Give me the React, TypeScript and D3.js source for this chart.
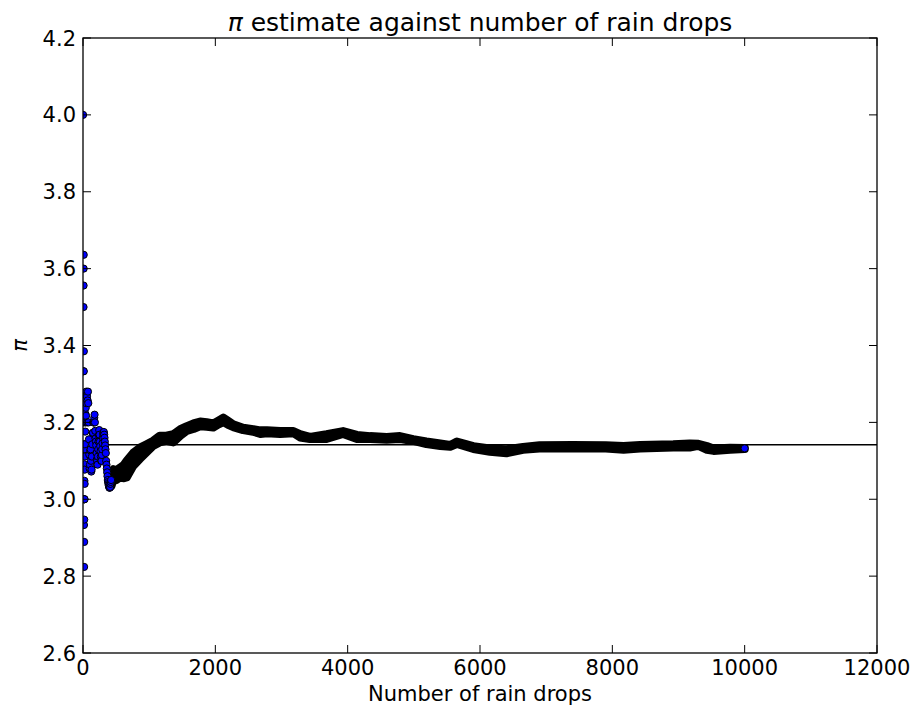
import React from "react";
import * as d3 from "d3";

// ---- data ----
const earlyN = [1, 4, 5, 6, 8, 9, 10, 11, 12, 13, 14, 15, 16, 17, 18, 19, 20, 21, 22, 23, 24, 25, 26, 27, 28, 30, 32, 34, 36, 38, 40, 42, 44, 46, 48, 50, 55, 60, 65, 70, 75, 80, 85, 90, 95, 100, 105, 110, 115, 120, 125, 130, 135, 140, 145, 150, 155, 160, 165, 170, 175, 180, 185, 190, 195, 200, 205, 210, 215, 220, 225, 230, 235, 240, 245, 250, 255, 260, 265, 270, 275, 280, 285, 290, 295, 300, 305, 310, 315, 320, 325, 330, 335, 340, 345, 350, 355, 360, 365, 370, 375, 380, 385, 390, 395, 400, 405, 410, 415, 420, 425];
const earlyPi = [4.0, 3.0, 3.2, 3.333, 3.5, 3.556, 3.6, 3.636, 3.333, 3.385, 3.143, 2.933, 3.0, 2.824, 2.889, 2.947, 3.0, 3.048, 3.091, 3.13, 3.0, 3.04, 3.077, 3.111, 3.143, 3.2, 3.25, 3.176, 3.222, 3.263, 3.2, 3.238, 3.273, 3.217, 3.25, 3.28, 3.27, 3.267, 3.2, 3.257, 3.28, 3.25, 3.2, 3.156, 3.116, 3.08, 3.09, 3.127, 3.13, 3.1, 3.072, 3.077, 3.111, 3.143, 3.172, 3.173, 3.2, 3.2, 3.2, 3.212, 3.22, 3.2, 3.178, 3.158, 3.15, 3.14, 3.12, 3.104, 3.1, 3.09, 3.111, 3.13, 3.15, 3.167, 3.18, 3.168, 3.15, 3.138, 3.125, 3.111, 3.1, 3.1, 3.115, 3.13, 3.146, 3.16, 3.17, 3.174, 3.175, 3.168, 3.16, 3.15, 3.14, 3.13, 3.12, 3.1, 3.09, 3.08, 3.07, 3.06, 3.05, 3.045, 3.04, 3.036, 3.032, 3.03, 3.03, 3.032, 3.04, 3.045, 3.05];

// dense part of the trace: range of estimates (low/high) at each number of drops
const bandN = [430, 460, 500, 560, 620, 660, 760, 860, 960, 1060, 1160, 1260, 1365, 1470, 1570, 1670, 1770, 1870, 1970, 2050, 2120, 2200, 2270, 2420, 2570, 2680, 2780, 2980, 3180, 3280, 3430, 3680, 3930, 4140, 4340, 4590, 4790, 4990, 5190, 5400, 5550, 5650, 5900, 6150, 6400, 6650, 6900, 7400, 7900, 8170, 8420, 8920, 9170, 9300, 9430, 9530, 9780, 10000];
const bandHi = [3.065, 3.078, 3.075, 3.082, 3.09, 3.1, 3.121, 3.134, 3.143, 3.152, 3.165, 3.165, 3.169, 3.182, 3.19, 3.197, 3.202, 3.2, 3.197, 3.205, 3.212, 3.203, 3.195, 3.186, 3.182, 3.179, 3.179, 3.177, 3.177, 3.169, 3.162, 3.169, 3.177, 3.167, 3.164, 3.162, 3.164, 3.156, 3.15, 3.145, 3.141, 3.15, 3.138, 3.132, 3.13, 3.136, 3.14, 3.141, 3.14, 3.138, 3.141, 3.143, 3.145, 3.144, 3.138, 3.132, 3.134, 3.133];
const bandLo = [3.035, 3.052, 3.05, 3.057, 3.055, 3.057, 3.087, 3.105, 3.122, 3.139, 3.148, 3.152, 3.148, 3.165, 3.178, 3.183, 3.19, 3.189, 3.187, 3.195, 3.201, 3.193, 3.188, 3.18, 3.176, 3.17, 3.172, 3.17, 3.172, 3.161, 3.157, 3.157, 3.17, 3.157, 3.157, 3.155, 3.157, 3.152, 3.144, 3.139, 3.137, 3.144, 3.131, 3.124, 3.12, 3.129, 3.132, 3.132, 3.132, 3.129, 3.132, 3.135, 3.135, 3.139, 3.129, 3.126, 3.129, 3.131];

const finalN = [10000];
const finalPi = [3.1324];

const piValue = [Math.PI];

const xTicks = [0, 2000, 4000, 6000, 8000, 10000, 12000];
const yTicks = [2.6, 2.8, 3.0, 3.2, 3.4, 3.6, 3.8, 4.0, 4.2];

const titleText = "estimate against number of rain drops";
const xLabel = "Number of rain drops";

// ---- layout ----
const W = 914;
const H = 715;
const L = 83;
const R = 877;
const T = 38;
const B = 653;
const FONT = "'DejaVu Sans', sans-serif";
const MR = 3.6; // marker radius

export default function App() {
  const x = d3.scaleLinear().domain([0, 12000]).range([L, R]);
  const y = d3.scaleLinear().domain([2.6, 4.2]).range([B, T]);

  const bandData = bandN.map((n, i) => ({ n, hi: bandHi[i], lo: bandLo[i] }));
  const area = d3
    .area<{ n: number; hi: number; lo: number }>()
    .x((d) => x(d.n))
    .y0((d) => y(d.lo))
    .y1((d) => y(d.hi));

  const early = earlyN.map((n, i) => ({ n, v: earlyPi[i] }));
  const finals = finalN.map((n, i) => ({ n, v: finalPi[i] }));

  return (
    <svg
      width={W}
      height={H}
      style={{ position: "absolute", left: 0, top: 0, background: "#fff" }}
      fontFamily={FONT}
    >
      <defs>
        <clipPath id="plotClip">
          <rect x={L} y={T} width={R - L} height={B - T} />
        </clipPath>
      </defs>
      <rect x={0} y={0} width={W} height={H} fill="#fff" />

      <g clipPath="url(#plotClip)">
        {piValue.map((p, i) => (
          <line key={i} x1={x(0)} x2={x(12000)} y1={y(p)} y2={y(p)} stroke="#000" strokeWidth={1.5} />
        ))}
        <path
          d={area(bandData) || ""}
          fill="#000"
          stroke="#000"
          strokeWidth={2 * MR + 1}
          strokeLinejoin="round"
          strokeLinecap="round"
        />
        {early.map((d, i) => (
          <circle key={i} cx={x(d.n)} cy={y(d.v)} r={MR} fill="#0000ff" stroke="#000" strokeWidth={1} />
        ))}
        {finals.map((d, i) => (
          <circle key={"f" + i} cx={x(d.n)} cy={y(d.v)} r={MR} fill="#0000ff" stroke="#000" strokeWidth={1} />
        ))}
      </g>

      {/* ticks */}
      {xTicks.map((t) => (
        <g key={"xt" + t}>
          <line x1={x(t)} x2={x(t)} y1={B} y2={B - 8} stroke="#000" strokeWidth={1} />
          <line x1={x(t)} x2={x(t)} y1={T} y2={T + 8} stroke="#000" strokeWidth={1} />
          <text x={x(t)} y={675} fontSize={21} textAnchor="middle" fill="#000">
            {t}
          </text>
        </g>
      ))}
      {yTicks.map((t) => (
        <g key={"yt" + t}>
          <line x1={L} x2={L + 8} y1={y(t)} y2={y(t)} stroke="#000" strokeWidth={1} />
          <line x1={R} x2={R - 8} y1={y(t)} y2={y(t)} stroke="#000" strokeWidth={1} />
          <text x={76} y={y(t) + 7.5} fontSize={21} textAnchor="end" fill="#000">
            {t.toFixed(1)}
          </text>
        </g>
      ))}

      {/* frame */}
      <rect x={L} y={T} width={R - L} height={B - T} fill="none" stroke="#000" strokeWidth={1.3} />

      {/* title */}
      <text x={(L + R) / 2} y={31} fontSize={25} textAnchor="middle" fill="#000">
        <tspan fontStyle="italic">π</tspan> {titleText}
      </text>

      {/* axis labels */}
      <text x={(L + R) / 2} y={701} fontSize={21} textAnchor="middle" fill="#000">
        {xLabel}
      </text>
      <text
        transform={`translate(27, ${(T + B) / 2}) rotate(-90)`}
        fontSize={21}
        textAnchor="middle"
        fontStyle="italic"
        fill="#000"
      >
        π
      </text>
    </svg>
  );
}
